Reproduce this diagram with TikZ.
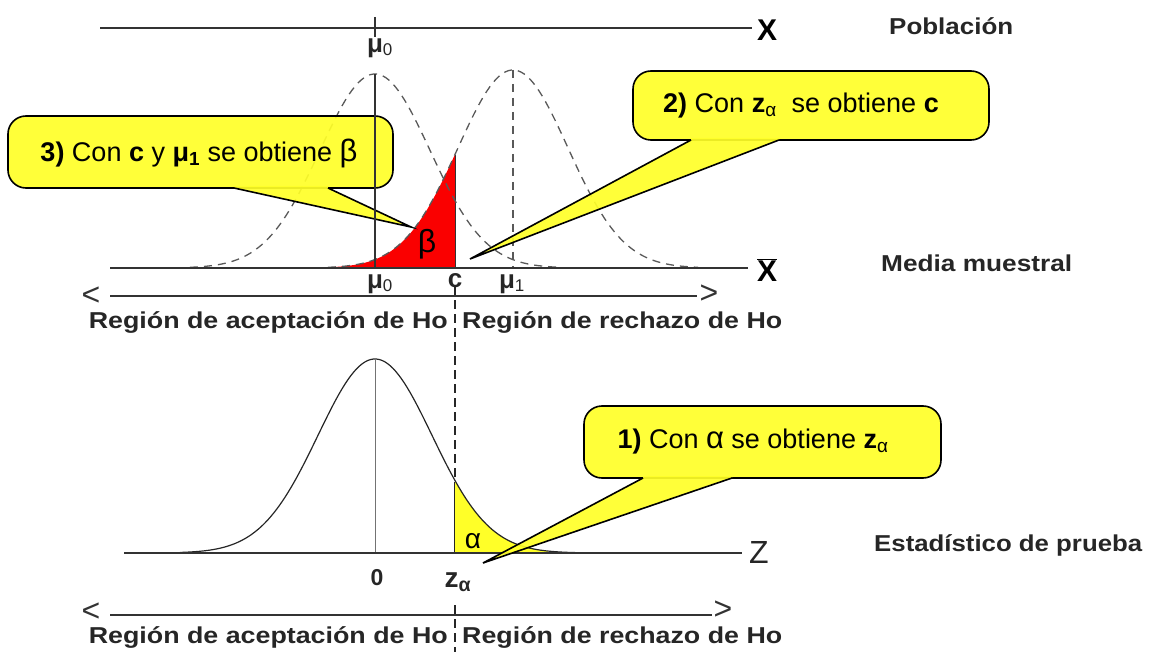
\documentclass[tikz,border=0pt]{standalone}
\usepackage{fontspec}
\setmainfont{Liberation Sans}
\setsansfont{Liberation Sans}
\usepackage{graphicx}
\definecolor{cyellow}{RGB}{255,255,40}
\definecolor{cred}{RGB}{250,0,0}
\newcommand{\mulab}[1]{\textbf{μ}\textsubscript{\fontsize{17}{17}\selectfont #1}}
\newcommand{\wide}[2]{\resizebox{#1}{\height}{#2}}
\begin{document}
\begin{tikzpicture}[x=1pt,y=-1pt,
  axis/.style={line width=1.5pt, draw=black!80},
  dcurve/.style={dash pattern=on 8pt off 6pt, line width=1.3pt, draw=black!65},
  blbl/.style={font=\bfseries\fontsize{23}{26}\selectfont, inner sep=0pt, text=black!85},
  mlbl/.style={font=\fontsize{26}{28}\selectfont, inner sep=0pt, text=black!85},
  cbox/.style={fill=cyellow, fill opacity=0.92, draw=black, line width=1.6pt, rounded corners=18pt},
  ctail/.style={fill=cyellow, fill opacity=0.92, draw=none},
  tailedge/.style={draw=black, line width=1.6pt, line join=miter},
  ctxt/.style={font=\fontsize{27}{30}\selectfont, inner sep=0pt},
  bigl/.style={font=\fontsize{32}{32}\selectfont, inner sep=0pt, text=black!80},
]
\useasboundingbox (0,0) rectangle (1153,652);

% ---------------- Population axis
\draw[axis] (100,28) -- (752,28);
\draw[axis] (375,17) -- (375,37);
\node[font=\bfseries\fontsize{30}{30}\selectfont, inner sep=0pt] (X1) at (767,30) {X};
\node[mlbl] (mu0a) at (380,48) {\mulab{0}};
\node[blbl, anchor=west] (pob) at (889,26) {\wide{124pt}{Población}};

% ---------------- Sample mean curves
\fill[cred] (330,268) -- plot[domain=330:455, samples=60] (\x,{268-198*exp(-0.5*((\x-513)/55)^2)}) -- (455,268) -- cycle;
\draw[line width=1pt, black!80] (455,155) -- (455,268);
\draw[dcurve] plot[domain=190:560, samples=120] (\x,{268-194*exp(-0.5*((\x-375)/55)^2)});
\draw[dcurve] plot[domain=328:698, samples=120] (\x,{268-198*exp(-0.5*((\x-513)/55)^2)});
\draw[dcurve] (513,70) -- (513,268);
\node[font=\fontsize{32}{32}\selectfont, inner sep=0pt] (beta) at (427,244) {β};
\draw[axis] (110,268) -- (748,268);
\node[font=\bfseries\fontsize{30}{30}\selectfont, inner sep=0pt] (X2) at (767,270) {$\overline{\hbox{\bfseries X}}$};
\node[mlbl] (mu0b) at (380,284) {\mulab{0}};
\node[mlbl] (clab) at (455,281) {\textbf{c}};
\node[mlbl] (mu1) at (512,284) {\mulab{1}};
\node[blbl, anchor=west] (media) at (881,263) {\wide{191pt}{Media muestral}};

% region arrows (upper)
\node[bigl] (la1) at (91,296) {<};
\node[bigl] (ra1) at (709,294) {>};
\draw[axis, line width=1.4pt] (110,296) -- (697,296);
\node[blbl, anchor=east] (acc1) at (448,323) {\wide{359pt}{Región de aceptación de Ho}};
\node[blbl, anchor=west] (rej1) at (462,323) {\wide{320pt}{Región de rechazo de Ho}};

% c vertical line
\draw[line width=1.1pt, black!85, dash pattern=on 9pt off 5pt] (455,286) -- (455,482);
\draw[line width=1.2pt, black!85] (455,482) -- (455,553);
\draw[line width=1.1pt, black!85, dash pattern=on 9pt off 5pt] (455,605) -- (455,652);

% ---------------- Standard normal
\fill[cyellow] (455,553) -- plot[domain=455:548, samples=50] (\x,{553-194*exp(-0.5*((\x-375)/57)^2)}) -- (548,553) -- cycle;
\draw[line width=0.6pt, black!55] (375,360) -- (375,553);
\draw[line width=1.2pt, black!85] plot[domain=180:575, samples=140] (\x,{553-194*exp(-0.5*((\x-375)/57)^2)});
\draw[axis] (124,553) -- (742,553);
\node[font=\fontsize{32}{32}\selectfont, inner sep=0pt, text=black!85] (Z) at (759,552) {Z};
\node[font=\fontsize{28}{28}\selectfont, inner sep=0pt] (alpha) at (473,541) {α};
\node[font=\bfseries\fontsize{23}{24}\selectfont, inner sep=0pt, text=black!85] (zero) at (377,578) {0};
\node[font=\bfseries\fontsize{28}{28}\selectfont, inner sep=0pt, text=black!85] (zal) at (458,582) {z\textsubscript{α}};
\node[blbl, anchor=west] (est) at (874,545) {\wide{268pt}{Estadístico de prueba}};

% region arrows (lower)
\node[bigl] (la2) at (91,612) {<};
\node[bigl] (ra2) at (723,610) {>};
\draw[axis, line width=1.4pt] (110,615) -- (712,615);
\node[blbl, anchor=east] (acc2) at (448,637) {\wide{359pt}{Región de aceptación de Ho}};
\node[blbl, anchor=west] (rej2) at (462,637) {\wide{320pt}{Región de rechazo de Ho}};

% ---------------- Callout 3
\coordinate (tip3) at (411,227);
\draw[cbox] (8,116) rectangle (393,188);
\fill[ctail] (234,186) -- (234,188) -- (tip3) -- (328,188) -- (328,186) -- cycle;
\draw[tailedge] (234,188) -- (tip3) -- (328,188);
\node[ctxt] (t3) at (199,153) {\textbf{3)} Con \textbf{c} y \textbf{μ\textsubscript{1}} se obtiene {\fontsize{31}{31}\selectfont β}};
\draw[line width=1.4pt, black!80] (375,74) -- (375,268);

% ---------------- Callout 2
\coordinate (tip2) at (470,259);
\draw[cbox] (633,71) rectangle (989,140);
\fill[ctail] (691,138) -- (691,140) -- (tip2) -- (779,140) -- (779,138) -- cycle;
\draw[tailedge] (691,140) -- (tip2) -- (779,140);
\node[ctxt] (t2) at (801,106) {\textbf{2)} Con \textbf{z}\textsubscript{α}\ \ se obtiene \textbf{c}};

% ---------------- Callout 1
\coordinate (tip1) at (483,563);
\draw[cbox] (584,406) rectangle (941,478);
\fill[ctail] (643,476) -- (643,478) -- (tip1) -- (732,478) -- (732,476) -- cycle;
\draw[tailedge] (643,478) -- (tip1) -- (732,478);
\node[ctxt] (t1) at (753,442) {\textbf{1)} Con {\fontsize{31}{31}\selectfont α} se obtiene \textbf{z}\textsubscript{α}};
\end{tikzpicture}
\end{document}
